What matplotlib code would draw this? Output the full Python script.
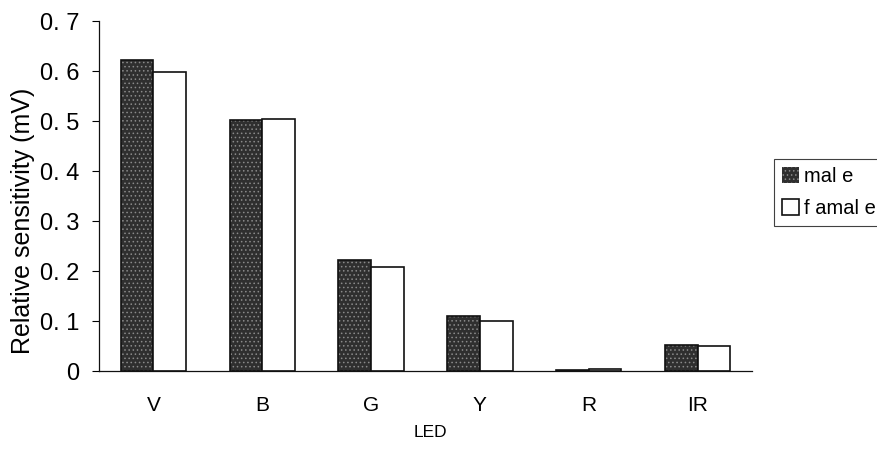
import matplotlib.pyplot as plt
import numpy as np

CATEGORIES = ["V", "B", "G", "Y", "R", "IR"]
MALE = [0.622, 0.502, 0.222, 0.111, 0.002, 0.052]
FEMALE = [0.598, 0.505, 0.208, 0.100, 0.004, 0.050]
SERIES_LABELS = ["mal e", "f amal e"]
YTICKS = [0, 0.1, 0.2, 0.3, 0.4, 0.5, 0.6, 0.7]

DARK, HATCH_C, INK = "#2f2f2f", "#8a8a8a", "#111111"
SANS = ["Liberation Sans", "DejaVu Sans"]

fig = plt.figure(figsize=(8.78, 4.49), dpi=100)
ax = fig.add_axes([0.1128, 0.1737, 0.7437, 0.7795])

x = np.arange(len(CATEGORIES))
w = 0.3
plt.rcParams["hatch.linewidth"] = 0.6

# male: speckled dark fill, then a black outline on top
ax.bar(x - w / 2, MALE, w, color=DARK, edgecolor=HATCH_C, hatch="....", lw=0)
ax.bar(x - w / 2, MALE, w, fill=False, edgecolor=INK, lw=1.2)
ax.bar(x + w / 2, FEMALE, w, color="white", edgecolor=INK, lw=1.2)

ax.set_xlim(-0.5, len(CATEGORIES) - 0.5)
ax.set_ylim(0, 0.7)
ax.set_yticks(YTICKS)
ax.set_yticklabels(["0"] + [f"{t:.1f}".replace(".", ". ") for t in YTICKS[1:]],
                   family=SANS, fontsize=17)
ax.set_xticks(x)
ax.set_xticklabels(CATEGORIES, family=SANS, fontsize=15)
ax.tick_params(axis="x", length=0, pad=18)
ax.tick_params(axis="y", length=5, width=0.8, pad=9)
for s in ("top", "right"):
    ax.spines[s].set_visible(False)
for s in ("left", "bottom"):
    ax.spines[s].set_linewidth(0.9)
    ax.spines[s].set_color(INK)

ax.set_ylabel("Relative sensitivity (mV)", family=SANS, fontsize=18)
ax.yaxis.set_label_coords(-0.098, 0.43)
ax.set_xlabel("LED", family=SANS, fontsize=12.5)
ax.xaxis.set_label_coords(0.508, -0.155)

# legend box partly clipped at the right edge as in the scan
handles = [
    plt.Rectangle((0, 0), 1, 1, facecolor=DARK, edgecolor=HATCH_C, hatch="....", lw=0),
    plt.Rectangle((0, 0), 1, 1, facecolor="white", edgecolor=INK, lw=1.2),
]
leg = fig.legend(handles, SERIES_LABELS, loc="upper left", bbox_to_anchor=(0.8815, 0.646),
                 prop={"family": SANS, "size": 14.5}, frameon=True, fancybox=False,
                 edgecolor=INK, handlelength=0.85, handleheight=0.85, handletextpad=0.25,
                 borderpad=0.4, labelspacing=0.65, borderaxespad=0)
leg.get_frame().set_linewidth(0.8)

fig.savefig("out.png", dpi=100)
